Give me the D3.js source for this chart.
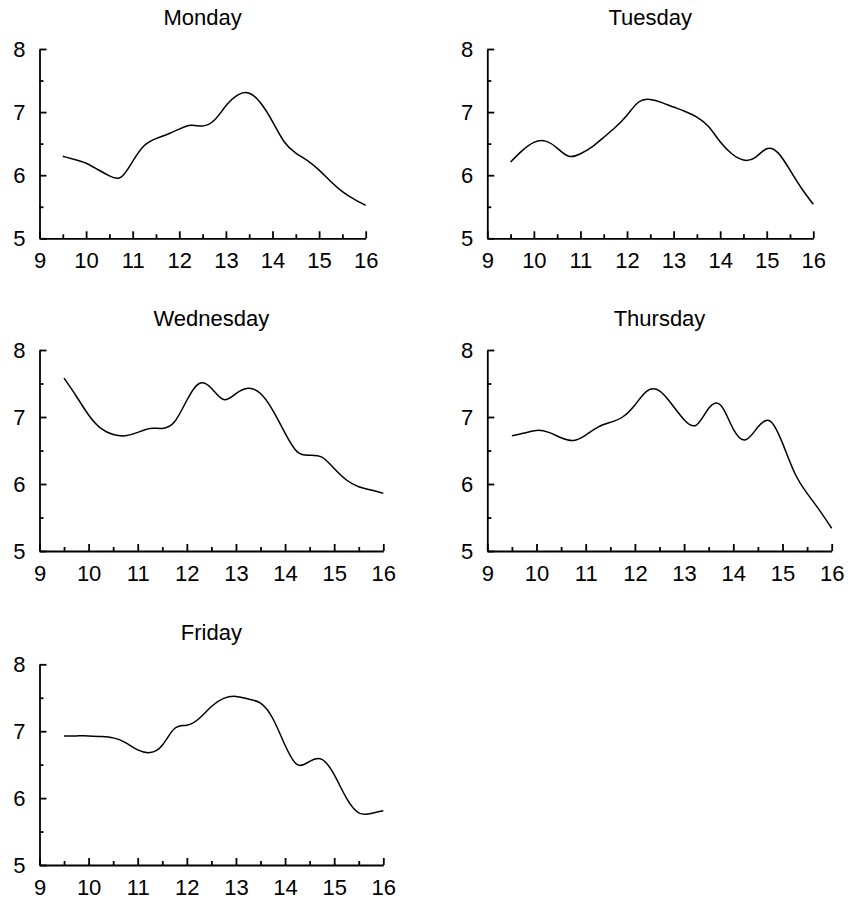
<!DOCTYPE html>
<html>
<head>
<meta charset="utf-8">
<script src="https://cdn.jsdelivr.net/npm/d3@7"></script>
<style>
  html, body { margin: 0; padding: 0; background: #fff; }
  svg { display: block; }
  text { font-family: "Liberation Sans", Arial, sans-serif; fill: #000; }
</style>
</head>
<body>
<svg id="chart" width="848" height="899"></svg>
<script>
// ---- data ----
const days = ["Monday", "Tuesday", "Wednesday", "Thursday", "Friday"];
const hours = [9.5, 9.75, 10, 10.25, 10.5, 10.75, 11, 11.25, 11.5, 11.75, 12, 12.25, 12.5, 12.75,
               13, 13.25, 13.5, 13.75, 14, 14.25, 14.5, 14.75, 15, 15.25, 15.5, 15.75, 16];
const monday    = [6.30, 6.25, 6.19, 6.09, 5.99, 5.97, 6.22, 6.47, 6.58, 6.65, 6.73, 6.79, 6.78, 6.87,
                   7.10, 7.27, 7.30, 7.14, 6.85, 6.53, 6.35, 6.23, 6.08, 5.90, 5.74, 5.62, 5.52];
const tuesday   = [6.21, 6.39, 6.52, 6.54, 6.43, 6.30, 6.34, 6.45, 6.60, 6.76, 6.95, 7.16, 7.20, 7.15,
                   7.08, 7.01, 6.92, 6.77, 6.53, 6.34, 6.24, 6.28, 6.42, 6.35, 6.08, 5.79, 5.54];
const wednesday = [7.58, 7.31, 7.03, 6.83, 6.74, 6.72, 6.77, 6.83, 6.83, 6.93, 7.25, 7.50, 7.43, 7.26,
                   7.35, 7.43, 7.35, 7.10, 6.76, 6.48, 6.43, 6.40, 6.23, 6.06, 5.96, 5.91, 5.86];
const thursday  = [6.72, 6.76, 6.80, 6.77, 6.69, 6.65, 6.73, 6.85, 6.92, 7.00, 7.18, 7.39, 7.39, 7.19,
                   6.96, 6.88, 7.13, 7.17, 6.82, 6.66, 6.85, 6.94, 6.61, 6.16, 5.86, 5.61, 5.34];
const friday    = [6.93, 6.93, 6.93, 6.92, 6.90, 6.83, 6.72, 6.68, 6.79, 7.04, 7.09, 7.19, 7.37, 7.49,
                   7.52, 7.48, 7.42, 7.19, 6.79, 6.50, 6.55, 6.58, 6.35, 6.00, 5.78, 5.77, 5.81];
const seriesList = [monday, tuesday, wednesday, thursday, friday];
const xTickValues = [9, 10, 11, 12, 13, 14, 15, 16];
const xMinorTicks = [9.5, 10.5, 11.5, 12.5, 13.5, 14.5, 15.5];
const yTickValues = [5, 6, 7, 8];
const yMinorTicks = [5.5, 6.5, 7.5];

// ---- layout (plot-area boxes) ----
const panels = [
  { x0: 39.5,  x1: 365.7, y0: 49,    y1: 238.3 },
  { x0: 487.3, x1: 813.3, y0: 49,    y1: 238.3 },
  { x0: 39.5,  x1: 383.3, y0: 350,   y1: 551 },
  { x0: 487.3, x1: 831.7, y0: 350,   y1: 551 },
  { x0: 39.5,  x1: 383.3, y0: 664.3, y1: 865 }
];

const svg = d3.select("#chart");
const FONT = "'Liberation Sans', Arial, sans-serif";

panels.forEach((p, i) => {
  const x = d3.scaleLinear().domain([9, 16]).range([p.x0, p.x1]);
  const y = d3.scaleLinear().domain([5, 8]).range([p.y1, p.y0]);
  const g = svg.append("g");

  // title
  g.append("text")
    .attr("x", (p.x0 + p.x1) / 2)
    .attr("y", p.y0 - 24.5)
    .attr("text-anchor", "middle")
    .style("font-size", "22px")
    .style("font-family", FONT)
    .text(days[i]);

  // x axis (ticks point inward/up)
  const xa = g.append("g").attr("transform", `translate(0,${p.y1})`)
    .call(d3.axisBottom(x).tickValues(xTickValues).tickFormat(d3.format("d"))
      .tickSizeInner(-7).tickSizeOuter(0).tickPadding(14));
  const xm = g.append("g").attr("transform", `translate(0,${p.y1})`)
    .call(d3.axisBottom(x).tickValues(xMinorTicks).tickFormat("")
      .tickSizeInner(-4).tickSizeOuter(0));
  xm.select(".domain").remove();

  // y axis
  const ya = g.append("g").attr("transform", `translate(${p.x0},0)`)
    .call(d3.axisLeft(y).tickValues(yTickValues).tickFormat(d3.format("d"))
      .tickSizeInner(-7).tickSizeOuter(0).tickPadding(14));
  const ym = g.append("g").attr("transform", `translate(${p.x0},0)`)
    .call(d3.axisLeft(y).tickValues(yMinorTicks).tickFormat("")
      .tickSizeInner(-4).tickSizeOuter(0));
  ym.select(".domain").remove();

  [xa, xm, ya, ym].forEach(a => {
    a.selectAll("path, line").attr("stroke", "#000").attr("stroke-width", 1.8);
    a.selectAll("text").style("font-size", "22px").attr("fill", "#000")
      .style("font-family", FONT);
  });

  // line
  const data = hours.map((h, k) => [h, seriesList[i][k]]);
  g.append("path")
    .datum(data)
    .attr("fill", "none")
    .attr("stroke", "#000")
    .attr("stroke-width", 1.5)
    .attr("d", d3.line().x(d => x(d[0])).y(d => y(d[1])).curve(d3.curveNatural));
});
</script>
</body>
</html>
